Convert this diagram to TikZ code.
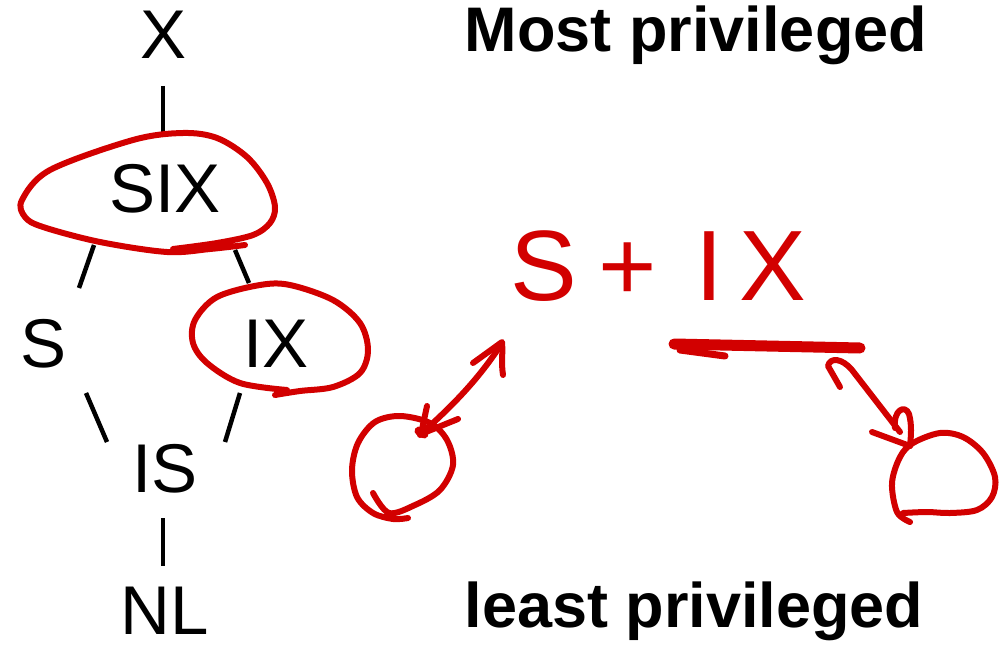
\documentclass[tikz,border=0pt]{standalone}
\usepackage{fontspec}
\setmainfont{Liberation Sans}
\definecolor{pen}{RGB}{210,0,0}
\begin{document}
\begin{tikzpicture}[x=1pt,y=-1pt,
  lbl/.style={font=\fontsize{69}{80}\selectfont, inner sep=0pt, anchor=base, text depth=0pt},
  ttl/.style={font=\fontsize{63}{72}\selectfont\bfseries, inner sep=0pt, anchor=base},
  hand/.style={font=\fontsize{100}{110}\selectfont, text=pen, inner sep=0pt, anchor=base west},
  edge/.style={line width=4.5pt, draw=black},
  redpen/.style={draw=pen, line width=6pt, line cap=round, line join=round},
  thickpen/.style={draw=pen, line width=11pt, line cap=round}]
\useasboundingbox (0,0) rectangle (1008,650);
% lattice nodes
\node[lbl] (X)   at (164,59)  {X};
\node[lbl] (SIX) at (165,212) {SIX};
\node[lbl] (S)   at (44,367)  {S};
\node[lbl] (IX)  at (276,367) {IX};
\node[lbl] (IS)  at (165,492) {IS};
\node[lbl] (NL)  at (165,634) {NL};
% titles
\node[ttl] (most)  at (696,52)  {Most privileged};
\node[ttl] (least) at (694,627) {least privileged};
% lattice edges
\draw[edge] ([shift={(-1,27)}]X.base)   -- ([shift={(-2,-79)}]SIX.base);
\draw[edge] ([shift={(-71,33)}]SIX.base) -- ([shift={(35,-79)}]S.base);
\draw[edge] ([shift={(70,38)}]SIX.base)  -- ([shift={(-27,-84)}]IX.base);
\draw[edge] ([shift={(42,26)}]S.base)    -- ([shift={(-58,-50)}]IS.base);
\draw[edge] ([shift={(-36,26)}]IX.base)  -- ([shift={(60,-50)}]IS.base);
\draw[edge] ([shift={(-2,26)}]IS.base)   -- ([shift={(-2,-68)}]NL.base);
% red loop around SIX
\draw[redpen] plot[smooth, tension=0.55] coordinates {
  (245,245) (210,249) (167,252) (100,242) (43,227) (25,217) (22,200) (50,170)
  (133,140) (183,133) (217,138) (247,157) (267,183) (275,207) (270,223)
  (253,235) (217,243) (173,249)};
% red loop around IX
\draw[redpen] plot[smooth, tension=0.55] coordinates {
  (275,395) (300,391) (333,387) (360,373) (368,350) (360,323) (333,300)
  (290,285) (260,285) (217,297) (195,320) (193,343) (207,363) (240,383) (287,390)};
% handwritten S+IX
\node[hand] (sum) at (510,300) {S\hspace{22pt}+\hspace{38pt}I\hspace{16pt}X};
\draw[thickpen] (674,344) -- (860,348);
\draw[redpen, line width=7pt] (680,350) -- (725,356);
% left small circle
\draw[redpen] plot[smooth, tension=0.55] coordinates {
  (373,493) (389,513) (415,505) (440,490) (453,465) (447,440) (430,423)
  (400,416) (375,422) (358,443) (352,470) (357,497) (373,513) (393,519) (408,518)};
% left double arrow
\draw[redpen] (420,435) .. controls (445,412) and (475,385) .. (502,343);
\draw[redpen] (427,406) -- (421,434) -- (458,419);
\draw[redpen, line width=9pt] (419,431) -- (424,434);
\draw[redpen] (473,363) -- (502,342) .. controls (503,355) and (501,362) .. (503,375);
% right small circle
\draw[redpen] plot[smooth, tension=0.55] coordinates {
  (910,522) (897,512) (892,483) (900,457) (913,443) (940,433) (963,437)
  (983,453) (995,477) (992,497) (977,510) (950,513) (927,512) (903,513)};
% right double arrow
\draw[redpen] (840,387) -- (828,366) .. controls (830,357) and (842,358) .. (852,370) -- (900,432);
\draw[redpen] (872,432) -- (910,446);
\draw[redpen] (895,428) .. controls (893,410) and (905,404) .. (909,414) .. controls (912,425) and (911,436) .. (910,446);
\end{tikzpicture}
\end{document}
